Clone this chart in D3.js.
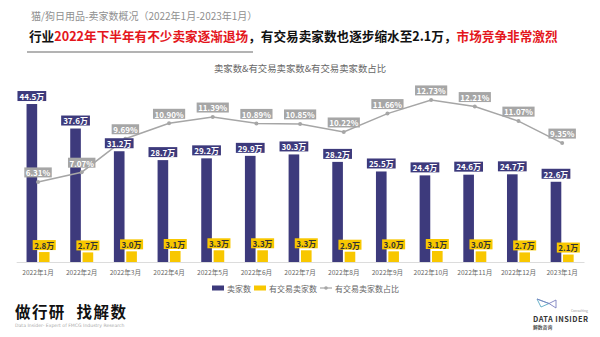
<!DOCTYPE html>
<html><head><meta charset="utf-8">
<script src="https://cdn.jsdelivr.net/npm/d3@7"></script>
<style>html,body{margin:0;padding:0;background:#fff;}svg{display:block;}</style>
</head><body>
<svg id="c" width="600" height="337"></svg>
<script>
const months = ["2022年1月","2022年2月","2022年3月","2022年4月","2022年5月","2022年6月","2022年7月","2022年8月","2022年9月","2022年10月","2022年11月","2022年12月","2023年1月"];
const sellers = [44.5,37.6,31.2,28.7,29.2,29.9,30.3,28.2,25.5,24.4,24.6,24.7,22.6];
const tradedSellers = [2.8,2.7,3.0,3.1,3.3,3.3,3.3,2.9,3.0,3.1,3.0,2.7,2.1];
const tradedRatio = [6.31,7.07,9.69,10.90,11.39,10.89,10.85,10.22,11.66,12.73,12.21,11.07,9.35];
const seriesNames = ["卖家数","有交易卖家数","有交易卖家数占比"];

const FONT = "'Noto Sans CJK SC','Noto Sans',sans-serif";
const C_DARK = "#3d3a7c", C_YEL = "#f8c700", C_GRAY = "#a6a6a6", C_RED = "#e4161c";

const svg = d3.select("#c").style("font-family", FONT);

// header
svg.append("text").attr("x",31).attr("y",15).attr("dominant-baseline","central")
  .attr("font-size",10).attr("fill","#8f8f8f").text("猫/狗日用品-卖家数概况（2022年1月-2023年1月）");
const head = svg.append("text").attr("x",29).attr("y",35).attr("dominant-baseline","central")
  .attr("font-size",13).attr("font-weight",700).attr("fill","#111");
[["行业","#111"],["2022年下半年有不少卖家逐渐退场",C_RED],["，有交易卖家数也逐步缩水至2.1万，","#111"],["市场竞争非常激烈",C_RED]]
  .forEach(([t,c])=>head.append("tspan").attr("fill",c).text(t));
const hw = head.node().getComputedTextLength();
head.attr("font-size", 13*529/hw);
svg.append("line").attr("x1",27).attr("x2",253).attr("y1",52).attr("y2",52)
  .attr("stroke","#9a9a9a").attr("stroke-width",1.5);
svg.append("text").attr("x",300).attr("y",68).attr("text-anchor","middle").attr("dominant-baseline","central")
  .attr("font-size",9.4).attr("fill","#666").text("卖家数&有交易卖家数&有交易卖家数占比");

// scales
const x = d3.scaleBand().domain(months).range([16.2,584]).padding(0);
const inner = d3.scaleBand().domain(["s","t"]).range([-11.5,11.5]).paddingInner(0.14);
const yBar = d3.scaleLinear().domain([0,50]).range([262,84.5]);
const yPct = d3.scaleLinear().domain([0,14]).range([262.5,83.7]);
const cx = m => x(m) + x.bandwidth()/2;

// axis
const ax = svg.append("g").attr("transform","translate(0,262)")
  .call(d3.axisBottom(x).tickSize(0).tickPadding(8));
ax.select(".domain").attr("stroke","#dcdcdc");
ax.selectAll("text").attr("font-size",6.6).attr("fill","#666").attr("font-family",FONT);

// bars
const data = months.map((m,i)=>({m, s:sellers[i], t:tradedSellers[i], r:tradedRatio[i]}));
svg.append("g").selectAll("rect").data(data).join("rect")
  .attr("x",d=>cx(d.m)+inner("s")).attr("width",inner.bandwidth())
  .attr("y",d=>yBar(d.s)).attr("height",d=>yBar(0)-yBar(d.s)).attr("fill",C_DARK);
svg.append("g").selectAll("rect").data(data).join("rect")
  .attr("x",d=>cx(d.m)+inner("t")).attr("width",inner.bandwidth())
  .attr("y",d=>yBar(d.t)).attr("height",d=>yBar(0)-yBar(d.t)).attr("fill",C_YEL);

// line
const line = d3.line().x(d=>cx(d.m)).y(d=>yPct(d.r));
svg.append("path").datum(data).attr("d",line).attr("fill","none").attr("stroke",C_GRAY).attr("stroke-width",1.5);
svg.append("g").selectAll("circle").data(data).join("circle")
  .attr("cx",d=>cx(d.m)).attr("cy",d=>yPct(d.r)).attr("r",2).attr("fill",C_GRAY);

// label helper
function label(g, cxv, bottom, txt, bg, fg, fs, pad){
  const grp = g.append("g");
  const r = grp.append("rect").attr("fill",bg);
  const t = grp.append("text").attr("x",cxv).attr("text-anchor","middle").attr("dominant-baseline","central")
    .attr("font-size",fs).attr("font-weight",700).attr("fill",fg).text(txt);
  const w = t.node().getComputedTextLength() + pad*2, h = fs + 2;
  r.attr("x",cxv-w/2).attr("y",bottom-h).attr("width",w).attr("height",h);
  t.attr("y",bottom-h/2+0.3);
}
const lg = svg.append("g");
data.forEach(d=>{
  label(lg, cx(d.m)+inner("s")+inner.bandwidth()/2, yBar(d.s)-3, d.s.toFixed(1)+"万", C_DARK, "#fff", 8, 2);
  label(lg, cx(d.m)+inner("t")+inner.bandwidth()/2, yBar(d.t)-2, d.t.toFixed(1)+"万", C_YEL, "#333", 8, 1.5);
});
data.forEach(d=>{
  label(lg, cx(d.m), yPct(d.r)-4.5, d.r.toFixed(2)+"%", C_GRAY, "#fff", 8, 1.5);
});

// legend
const leg = svg.append("g").attr("font-size",8).attr("fill","#666");
let lx = 212; const ly = 288;
seriesNames.forEach((n,i)=>{
  if(i<2){
    leg.append("rect").attr("x",lx).attr("y",ly-2.5).attr("width",12).attr("height",5).attr("fill",i==0?C_DARK:C_YEL);
  } else {
    leg.append("line").attr("x1",lx).attr("x2",lx+12).attr("y1",ly).attr("y2",ly).attr("stroke",C_GRAY).attr("stroke-width",1.2);
    leg.append("circle").attr("cx",lx+6).attr("cy",ly).attr("r",1.8).attr("fill",C_GRAY);
  }
  const t = leg.append("text").attr("x",lx+15).attr("y",ly).attr("dominant-baseline","central").text(n);
  lx += 15 + t.node().getComputedTextLength() + 3;
});

// footer
svg.append("text").attr("x",15).attr("y",311).attr("dominant-baseline","central")
  .attr("font-size",15.5).attr("font-weight",700).attr("letter-spacing",1.4).attr("word-spacing",6)
  .attr("fill","#111").text("做行研 找解数");
svg.append("text").attr("x",15).attr("y",325).attr("dominant-baseline","central")
  .attr("font-size",4.6).attr("fill","#aaa").attr("font-family","'DejaVu Sans',sans-serif")
  .text("Data Insider- Expert of FMCG Industry Research");
const logo = svg.append("g").attr("fill","none").attr("stroke-width",0.9);
logo.append("path").attr("d","M537,299 L541,307 L549,303.5 Z").attr("stroke","#5aa9c4");
logo.append("path").attr("d","M537,299 L549,303.5 L556,300 L556,308 L549,303.5").attr("stroke","#7a7fc0");
svg.append("text").attr("x",588).attr("y",310.8).attr("text-anchor","end").attr("dominant-baseline","central")
  .attr("font-size",3.4).attr("fill","#999").text("Consulting");
svg.append("text").attr("x",533).attr("y",318).attr("dominant-baseline","central")
  .attr("font-size",7.4).attr("font-weight",700).attr("fill","#333").attr("textLength",55)
  .text("DATA INSIDER");
svg.append("text").attr("x",533).attr("y",326).attr("dominant-baseline","central")
  .attr("font-size",4.8).attr("font-weight",700).attr("fill","#555").text("解数咨询");
</script>
</body></html>
